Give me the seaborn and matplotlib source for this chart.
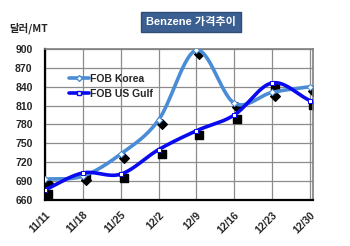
import numpy as np
import pandas as pd
import matplotlib
matplotlib.use("Agg")
import matplotlib.pyplot as plt
import matplotlib.transforms as mtransforms
from matplotlib.lines import Line2D
import seaborn as sns

dates = ["11/11", "11/18", "11/25", "12/2", "12/9", "12/16", "12/23", "12/30"]
fob_korea = [693, 698, 733, 787, 898, 814, 831, 840]
fob_usgulf = [676, 703, 701, 740, 770, 795, 846, 818]
y_ticks = [660, 690, 720, 750, 780, 810, 840, 870, 900]
title = "Benzene 가격추이"
y_unit = "달러/MT"
series_names = ["FOB Korea", "FOB US Gulf"]

KOREA_C = "#4A8CD6"
GULF_C = "#0A0AF0"

sns.set_theme(style="white")
plt.rcParams["font.family"] = ["Liberation Sans", "Noto Sans CJK KR", "DejaVu Sans"]


def catmull_rom(xs, ys, n=30):
    xs = np.asarray(xs, float)
    ys = np.asarray(ys, float)
    px = np.concatenate([[2 * xs[0] - xs[1]], xs, [2 * xs[-1] - xs[-2]]])
    py = np.concatenate([[2 * ys[0] - ys[1]], ys, [2 * ys[-1] - ys[-2]]])
    ox, oy = [], []
    for i in range(1, len(px) - 2):
        t = np.linspace(0, 1, n, endpoint=(i == len(px) - 3))
        for P, out in ((px, ox), (py, oy)):
            p0, p1, p2, p3 = P[i - 1], P[i], P[i + 1], P[i + 2]
            out.extend(0.5 * ((2 * p1) + (-p0 + p2) * t
                              + (2 * p0 - 5 * p1 + 4 * p2 - p3) * t ** 2
                              + (-p0 + 3 * p1 - 3 * p2 + p3) * t ** 3))
    return np.array(ox), np.array(oy)


idx = np.arange(len(dates))
fig = plt.figure(figsize=(3.5, 2.46), dpi=100)
ax = fig.add_axes([0.1286, 0.187, 0.7654, 0.614])

pts = pd.DataFrame({"x": np.concatenate([idx, idx]),
                    "v": fob_korea + fob_usgulf,
                    "s": [series_names[0]] * len(idx) + [series_names[1]] * len(idx)})

# shadow markers (black), slightly offset
shadow = mtransforms.offset_copy(ax.transData, fig=fig, x=3, y=-4, units="dots")
for name, mk, sz in zip(series_names, ["D", "s"], [24, 30]):
    d = pts[pts.s == name]
    ax.scatter(d.x, d.v, marker=mk, s=sz, color="black", zorder=2, transform=shadow)

for name, vals, col, lw in [(series_names[0], fob_korea, KOREA_C, 2.6),
                            (series_names[1], fob_usgulf, GULF_C, 2.6)]:
    cx, cy = catmull_rom(idx, vals)
    curve = pd.DataFrame({"x": cx, "v": cy})
    sns.lineplot(data=curve, x="x", y="v", sort=False, estimator=None,
                 color=col, linewidth=lw, ax=ax, zorder=3)

sns.scatterplot(data=pts[pts.s == series_names[0]], x="x", y="v", marker="D", s=10,
                color="white", edgecolor=KOREA_C, linewidth=0.7, ax=ax, zorder=4)
sns.scatterplot(data=pts[pts.s == series_names[1]], x="x", y="v", marker="s", s=10,
                color="white", edgecolor=GULF_C, linewidth=0.7, ax=ax, zorder=4)

ax.set_xlim(0, len(dates) - 1 + 0.08)
ax.set_ylim(660, 900)
ax.set_yticks(y_ticks)
ax.set_yticklabels([str(v) for v in y_ticks], fontsize=7.5, fontweight="bold")
ax.set_xticks(idx)
ax.set_xticklabels(dates, rotation=45, ha="right", rotation_mode="anchor",
                   fontsize=7.5, fontweight="bold")
ax.tick_params(axis="y", length=0, pad=9)
ax.tick_params(axis="x", length=0, pad=7)
ax.set_xlabel("")
ax.set_ylabel("")
ax.grid(True, color="#8C8C8C", linewidth=0.9)
ax.set_axisbelow(True)
for side in ["top", "right"]:
    ax.spines[side].set_color("#7F7F7F")
    ax.spines[side].set_linewidth(1.2)
for side in ["left", "bottom"]:
    ax.spines[side].set_color("black")
    ax.spines[side].set_linewidth(1.6)

handles = [Line2D([], [], color=KOREA_C, lw=2.6, marker="D", markersize=3,
                  markerfacecolor="white", markeredgecolor=KOREA_C),
           Line2D([], [], color=GULF_C, lw=2.6, marker="s", markersize=3,
                  markerfacecolor="white", markeredgecolor=GULF_C)]
ax.legend(handles, series_names, loc="upper left", bbox_to_anchor=(0.175, 0.73),
          bbox_transform=fig.transFigure, frameon=False, handlelength=2.0,
          handletextpad=0.1, labelspacing=0.5, borderpad=0.2,
          prop={"size": 7.5, "weight": "bold"})

fig.text(0.546, 0.909, title, ha="center", va="center", color="white",
         fontsize=8, fontweight="bold",
         family=["Liberation Sans", "Noto Sans CJK KR"],
         bbox=dict(boxstyle="square,pad=0.45", facecolor="#3B5F91", edgecolor="#2E4C78"))
fig.text(0.025, 0.885, y_unit, ha="left", va="center", fontsize=7.5, fontweight="bold",
         family=["Noto Sans CJK KR", "Liberation Sans"])

fig.savefig("out.png", dpi=100, facecolor="white")
